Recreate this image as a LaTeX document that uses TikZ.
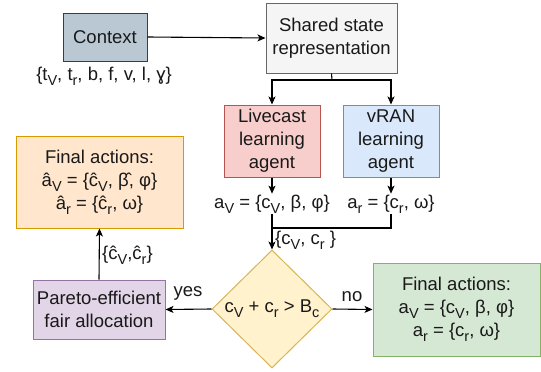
\documentclass[tikz,border=0pt]{standalone}
\usepackage{fontspec}
\setmainfont{Liberation Sans}
\usetikzlibrary{arrows.meta,shapes.geometric}
\definecolor{ctxfill}{HTML}{BAC8D3}\definecolor{ctxdraw}{HTML}{23445D}
\definecolor{shfill}{HTML}{F5F5F5}\definecolor{shdraw}{HTML}{666666}
\definecolor{lvfill}{HTML}{F8CECC}\definecolor{lvdraw}{HTML}{B85450}
\definecolor{vrfill}{HTML}{DAE8FC}\definecolor{vrdraw}{HTML}{6C8EBF}
\definecolor{orfill}{HTML}{FFE6CC}\definecolor{ordraw}{HTML}{D79B00}
\definecolor{pufill}{HTML}{E1D5E7}\definecolor{pudraw}{HTML}{9673A6}
\definecolor{yefill}{HTML}{FFF2CC}\definecolor{yedraw}{HTML}{D6B656}
\definecolor{grfill}{HTML}{D5E8D4}\definecolor{grdraw}{HTML}{82B366}
\newcommand\sbs[1]{\raisebox{-0.5ex}{\fontsize{14.5}{15}\selectfont #1}}
\tikzset{
  box/.style={draw, line width=1pt, inner sep=2pt, align=center},
  lbl/.style={inner sep=1pt, align=center},
  conn/.style={line width=1.1pt},
  arr/.style={conn, -{Stealth[length=8pt,width=7pt,inset=2pt]}}
}
\begin{document}
\begin{tikzpicture}[x=1pt,y=-1pt, font=\fontsize{18.5}{23}\selectfont, text=black!90]
\useasboundingbox[fill=white] (0,0) rectangle (541,372);
% nodes
\node[box, fill=ctxfill, draw=ctxdraw, minimum width=84, minimum height=48] (ctx) at (105,37) {Context};
\node[lbl] (ctxl) at (104,76) {\{t\sbs{V}, t\sbs{r}, b, f, v, l, ɣ\}};
\node[box, fill=shfill, draw=shdraw, minimum width=131, minimum height=70] (sh) at (331.5,38) {Shared state\\representation};
\node[box, fill=lvfill, draw=lvdraw, minimum width=96, minimum height=72] (lv) at (272,141) {Livecast\\learning\\agent};
\node[box, fill=vrfill, draw=vrdraw, minimum width=96, minimum height=72] (vr) at (391,141) {vRAN\\learning\\agent};
\node[lbl] (av) at (272,204) {a\sbs{V} = \{c\sbs{V}, β, φ\}};
\node[lbl] (ar) at (391,204) {a\sbs{r} = \{c\sbs{r}, ω\}};
\coordinate (split) at (332,80);
\coordinate (join) at (272,228);
\node[diamond, draw=yedraw, fill=yefill, line width=1pt, minimum width=120, minimum height=118, inner sep=0] (dec) at (272,309) {};
\node[lbl] (dect) at (dec) {c\sbs{V} + c\sbs{r} > B\sbs{c}};
\node[lbl, anchor=west] (ccl) at (274,240) {\{c\sbs{V}, c\sbs{r} \}};
\node[box, fill=pufill, draw=pudraw, minimum width=132, minimum height=59] (par) at (99,309.5) {Pareto-efficient\\fair allocation};
\node[box, fill=orfill, draw=ordraw, minimum width=167, minimum height=92] (ofa) at (99.5,182) {Final actions:\\â\sbs{V} = \{ĉ\sbs{V}, β̂, φ\}\\â\sbs{r} = \{ĉ\sbs{r}, ω\}};
\node[box, fill=grfill, draw=grdraw, minimum width=167, minimum height=93] (gfa) at (456.5,309.5) {Final actions:\\a\sbs{V} = \{c\sbs{V}, β, φ\}\\a\sbs{r} = \{c\sbs{r}, ω\}};
\node[lbl] (yes) at (188,293) {yes};
\node[lbl] (no) at (352,297) {no};
\node[lbl, anchor=west] (hcl) at (101,255) {\{ĉ\sbs{V},ĉ\sbs{r}\}};
% connectors
\draw[arr] (ctx.east) -- (sh.west);
\draw[conn] (sh.south) -- (split);
\draw[arr] (split) -| (lv.north);
\draw[arr] (split) -| (vr.north);
\draw[arr] (lv.south) -- (av.north);
\draw[arr] (vr.south) -- (ar.north);
\draw[conn] (ar.south) |- (join);
\draw[arr] (av.south) -- (dec.north);
\draw[arr] (dec.west) -- (par.east);
\draw[arr] (dec.east) -- (gfa.west);
\draw[arr] (par.north) -- (ofa.south);
\end{tikzpicture}
\end{document}
